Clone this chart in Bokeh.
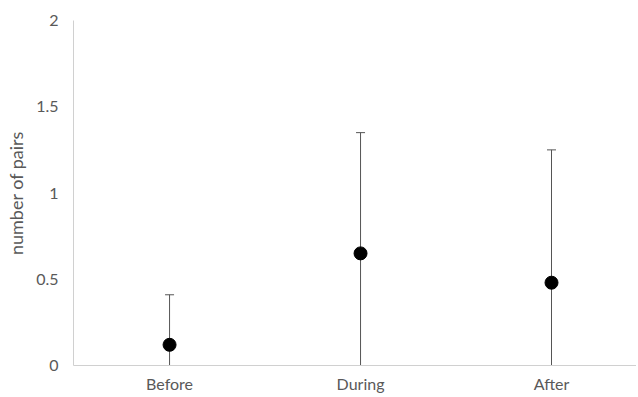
from bokeh.plotting import figure
from bokeh.models import ColumnDataSource, Whisker, TeeHead, Range1d, FixedTicker
from bokeh.embed import file_html
from bokeh.resources import INLINE

categories = ["Before", "During", "After"]
means = [0.12, 0.65, 0.48]
upper_vals = [0.41, 1.35, 1.25]
lower_vals = [0.0, 0.0, 0.0]
y_ticks = [0, 0.5, 1, 1.5, 2]
y_tick_labels = ["0", "0.5", "1", "1.5", "2"]

xs = list(range(len(categories)))
src = ColumnDataSource(dict(x=xs, y=means, upper=upper_vals, lower=lower_vals))

p = figure(width=636, height=395, output_backend="svg", toolbar_location=None,
           x_range=Range1d(-0.503, 2.445), y_range=Range1d(0, 2),
           min_border_left=73, min_border_right=0, min_border_top=20, min_border_bottom=28)
p.outline_line_color = None
p.grid.visible = False

w = Whisker(base="x", upper="upper", lower="lower", source=src,
            line_color="#555555", line_width=1,
            upper_head=TeeHead(size=9, line_color="#555555", line_width=1), lower_head=None)
p.add_layout(w)
p.scatter("x", "y", source=src, size=13, color="black")

tick_font = "Lato"
p.xaxis.ticker = FixedTicker(ticks=xs)
p.xaxis.major_label_overrides = {i: c for i, c in enumerate(categories)}
p.yaxis.ticker = FixedTicker(ticks=y_ticks)
p.yaxis.major_label_overrides = {t: l for t, l in zip(y_ticks, y_tick_labels)}
for ax in (p.xaxis[0], p.yaxis[0]):
    ax.axis_line_color = "#d0d0d0"
    ax.axis_line_width = 1
    ax.major_tick_line_color = None
    ax.minor_tick_line_color = None
    ax.major_tick_out = 0
    ax.major_tick_in = 0
    ax.minor_tick_out = 0
    ax.minor_tick_in = 0
    ax.major_label_text_color = "#595959"
    ax.major_label_text_font = tick_font
    ax.major_label_text_font_size = "16px"
p.yaxis.major_label_standoff = 15
p.xaxis.major_label_standoff = 8
p.yaxis.axis_label = "number of pairs"
p.yaxis.axis_label_text_font = tick_font
p.yaxis.axis_label_text_font_style = "normal"
p.yaxis.axis_label_text_font_size = "18px"
p.yaxis.axis_label_text_color = "#595959"
p.yaxis.axis_label_standoff = 6

open("out.html", "w").write(file_html(p, INLINE))
